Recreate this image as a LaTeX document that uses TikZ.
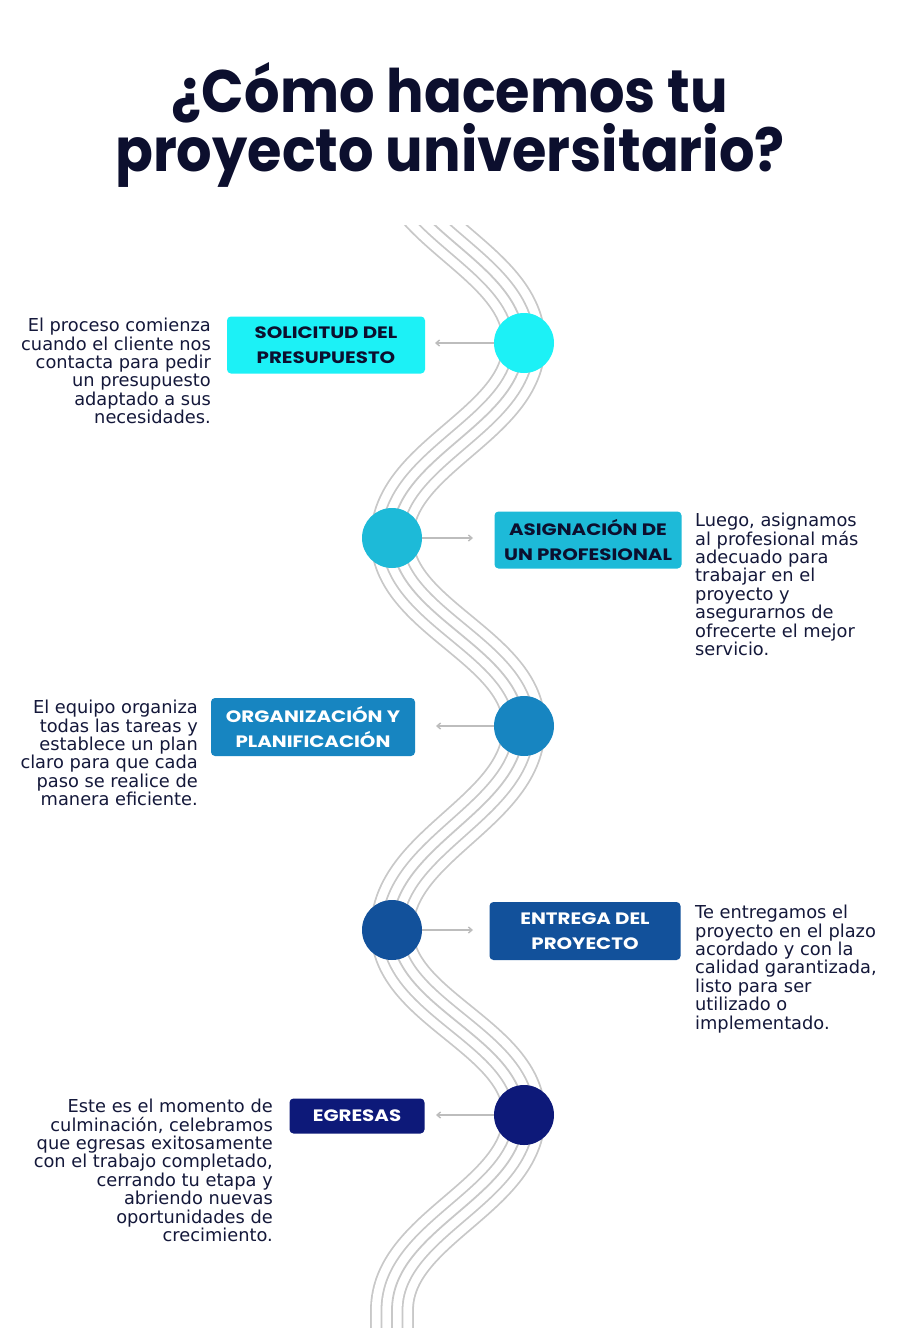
\documentclass[tikz,border=0pt]{standalone}
\usepackage{fontspec}
\setmainfont{DejaVu Sans}
\newfontfamily\headfont{Poppins}[FakeStretch=0.93]
\newfontfamily\labelfont{Poppins}[FakeStretch=1.2]
\usetikzlibrary{arrows.meta}

\definecolor{ink}{HTML}{0C0F2E}
\definecolor{bodyink}{HTML}{14183A}
\definecolor{road}{HTML}{C8C8C8}
\definecolor{link}{HTML}{BDBDBD}
\definecolor{stepA}{HTML}{1CF1F6}
\definecolor{stepB}{HTML}{1DBAD8}
\definecolor{stepC}{HTML}{1785C1}
\definecolor{stepD}{HTML}{12519B}
\definecolor{stepE}{HTML}{0D1979}

\tikzset{
  dot/.style={circle, inner sep=0pt, minimum size=60pt},
  label box/.style={rounded corners=4pt, inner sep=0pt, align=center,
    font={\labelfont\bfseries\fontsize{16.5}{24.5}\selectfont}},
  desc/.style={inner sep=0pt, text=bodyink,
    font={\fontsize{17.8}{18.4}\selectfont}},
  link arrow/.style={draw=link, line width=1.4pt,
    -{Straight Barb[length=3.5pt,width=6pt]}},
}

\begin{document}
\begin{tikzpicture}[x=1pt,y=-1pt]
\useasboundingbox (0,0) rectangle (900,1328);
\fill[white] (0,0) rectangle (900,1328);

% title
\node[align=center, text=ink, font={\headfont\bfseries\fontsize{60}{56}\selectfont}]
  (title) at (450,125) {¿Cómo hacemos tu\\proyecto universitario?};

% winding road: five parallel grey strands built from stacked strokes
\def\roadpath{(392,148)
  .. controls (392,230) and (524,261) .. (524,343)
  .. controls (524,425) and (392,456) .. (392,538)
  .. controls (392,617) and (524,647) .. (524,726)
  .. controls (524,812) and (392,844) .. (392,930)
  .. controls (392,1008) and (524,1037) .. (524,1115)
  .. controls (524,1197) and (392,1228) .. (392,1310)
  -- (392,1360)}
\begin{scope}
  \clip (0,225) rectangle (900,1328);
  \draw[road, line width=43.8pt] \roadpath;
  \draw[white, line width=40.2pt] \roadpath;
  \draw[road, line width=22.8pt] \roadpath;
  \draw[white, line width=19.2pt] \roadpath;
  \draw[road, line width=1.8pt] \roadpath;
\end{scope}

% milestones
\node[dot, fill=stepA] (c1) at (524,343) {};
\node[dot, fill=stepB] (c2) at (392,538) {};
\node[dot, fill=stepC] (c3) at (524,726) {};
\node[dot, fill=stepD] (c4) at (392,930) {};
\node[dot, fill=stepE] (c5) at (524,1115) {};

% step labels
\node[label box, fill=stepA, text=ink, minimum width=198pt, minimum height=57pt]
  (b1) at (326,345) {SOLICITUD DEL\\PRESUPUESTO};
\node[label box, fill=stepB, text=ink, minimum width=187pt, minimum height=57pt]
  (b2) at (588,540) {ASIGNACIÓN DE\\UN PROFESIONAL};
\node[label box, fill=stepC, text=white, minimum width=204pt, minimum height=58pt]
  (b3) at (313,727) {ORGANIZACIÓN Y\\PLANIFICACIÓN};
\node[label box, fill=stepD, text=white, minimum width=191pt, minimum height=58pt]
  (b4) at (585,931) {ENTREGA DEL\\PROYECTO};
\node[label box, fill=stepE, text=white, minimum width=135pt, minimum height=35pt]
  (b5) at (357,1116) {EGRESAS};

% pointers from milestones toward labels
\coordinate (e1) at (435,343);
\coordinate (e2) at (473,538);
\coordinate (e3) at (436,726);
\coordinate (e4) at (473,930);
\coordinate (e5) at (436,1115);
\draw[link arrow] (c1.west) -- (e1);
\draw[link arrow] (c2.east) -- (e2);
\draw[link arrow] (c3.west) -- (e3);
\draw[link arrow] (c4.east) -- (e4);
\draw[link arrow] (c5.west) -- (e5);

% descriptions
\node[desc, anchor=north east, align=right] (t1) at (211,318)
  {El proceso comienza\\cuando el cliente nos\\contacta para pedir\\un presupuesto\\adaptado a sus\\necesidades.};
\node[desc, anchor=north west, align=left] (t2) at (695,513)
  {Luego, asignamos\\al profesional más\\adecuado para\\trabajar en el\\proyecto y\\asegurarnos de\\ofrecerte el mejor\\servicio.};
\node[desc, anchor=north east, align=right] (t3) at (198,700)
  {El equipo organiza\\todas las tareas y\\establece un plan\\claro para que cada\\paso se realice de\\manera eficiente.};
\node[desc, anchor=north west, align=left] (t4) at (695,905)
  {Te entregamos el\\proyecto en el plazo\\acordado y con la\\calidad garantizada,\\listo para ser\\utilizado o\\implementado.};
\node[desc, anchor=north east, align=right] (t5) at (273,1099)
  {Este es el momento de\\culminación, celebramos\\que egresas exitosamente\\con el trabajo completado,\\cerrando tu etapa y\\abriendo nuevas\\oportunidades de\\crecimiento.};
\end{tikzpicture}
\end{document}
